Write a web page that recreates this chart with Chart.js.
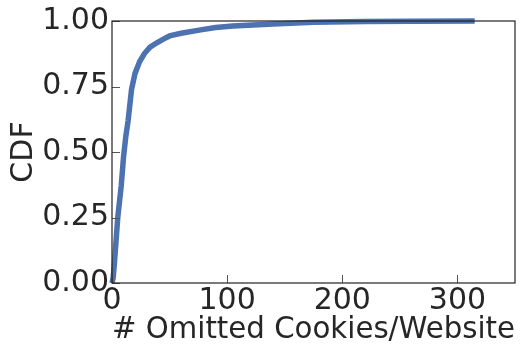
<!DOCTYPE html>
<html>
<head>
<meta charset="utf-8">
<script src="https://cdn.jsdelivr.net/npm/chart.js@4/dist/chart.umd.min.js"></script>
<style>
html,body{margin:0;padding:0;background:#fff;}
#wrap{width:524px;height:346px;position:relative;}
</style>
</head>
<body>
<div id="wrap"><canvas id="c" width="524" height="346"></canvas></div>
<script>
const omittedCookies = [0, 1, 2, 3, 5, 8, 10, 12, 14, 17, 20, 24, 28, 33, 39, 45, 50, 60, 77, 90, 105, 140, 175, 220, 260, 315];
const cdfValues =      [0, 0.02, 0.07, 0.13, 0.25, 0.37, 0.48, 0.56, 0.62, 0.74, 0.80, 0.845, 0.875, 0.90, 0.917, 0.932, 0.943, 0.953, 0.966, 0.975, 0.981, 0.989, 0.995, 0.998, 0.999, 1.0];
const xTickValues = [0, 100, 200, 300];
const yTickValues = [0, 0.25, 0.5, 0.75, 1.0];
const xTitle = '# Omitted Cookies/Website';
const yTitle = 'CDF';

const points = omittedCookies.map((x, i) => ({x: x, y: cdfValues[i]}));
const textColor = '#262626';
const fontFam = '"DejaVu Sans", sans-serif';

const frame = {
  id: 'frame',
  afterDraw(chart) {
    const ctx = chart.ctx, a = chart.chartArea;
    const xs = chart.scales.x, ys = chart.scales.y;
    ctx.save();
    ctx.strokeStyle = '#555';
    ctx.lineWidth = 1;
    xTickValues.forEach(v => {
      const px = Math.round(xs.getPixelForValue(v)) + 0.5;
      ctx.beginPath(); ctx.moveTo(px, a.bottom); ctx.lineTo(px, a.bottom - 8); ctx.stroke();
    });
    yTickValues.forEach(v => {
      const py = Math.round(ys.getPixelForValue(v)) + 0.5;
      ctx.beginPath(); ctx.moveTo(a.left, py); ctx.lineTo(a.left + 8, py); ctx.stroke();
    });
    ctx.strokeStyle = '#222';
    ctx.lineWidth = 1.2;
    ctx.strokeRect(a.left, a.top, a.right - a.left, a.bottom - a.top);
    ctx.restore();
  }
};

new Chart(document.getElementById('c'), {
  type: 'scatter',
  data: {
    datasets: [{
      data: points,
      showLine: true,
      borderColor: '#4C72B0',
      backgroundColor: '#4C72B0',
      borderWidth: 5.5,
      pointRadius: 0,
      tension: 0,
      clip: 6
    }]
  },
  options: {
    responsive: false,
    animation: false,
    layout: {padding: {top: 21, right: 9, left: 0, bottom: 0}},
    plugins: {legend: {display: false}, tooltip: {enabled: false}},
    scales: {
      x: {
        type: 'linear', min: 0, max: 350,
        afterBuildTicks: s => { s.ticks = xTickValues.map(v => ({value: v})); },
        afterFit: s => { s.height = 63; },
        grid: {display: false, drawTicks: false},
        border: {display: false},
        ticks: {color: textColor, font: {family: fontFam, size: 30}, padding: 0, maxRotation: 0, autoSkip: false},
        title: {display: true, text: xTitle, color: textColor, font: {family: fontFam, size: 30, lineHeight: 1}, padding: {top: 0, bottom: 1}}
      },
      y: {
        type: 'linear', min: 0, max: 1,
        afterBuildTicks: s => { s.ticks = yTickValues.map(v => ({value: v})); },
        afterFit: s => { s.width = 112; },
        grid: {display: false, drawTicks: false},
        border: {display: false},
        ticks: {color: textColor, font: {family: fontFam, size: 30}, padding: 3, callback: v => v.toFixed(2)},
        title: {display: true, text: yTitle, color: textColor, font: {family: fontFam, size: 30, lineHeight: 1}, padding: {top: 9, bottom: 0}}
      }
    }
  },
  plugins: [frame]
});
</script>
</body>
</html>
